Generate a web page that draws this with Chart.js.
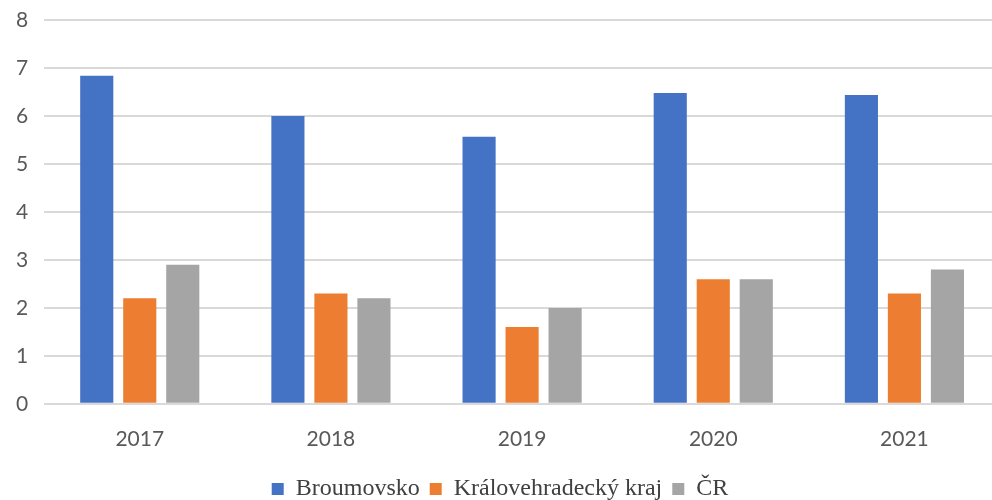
<!DOCTYPE html>
<html>
<head>
<meta charset="utf-8">
<script src="https://cdn.jsdelivr.net/npm/chart.js@4"></script>
<style>
  html, body { margin: 0; padding: 0; background: #fff; overflow: hidden; }
  #wrap { width: 1000px; height: 500px; }
</style>
</head>
<body>
<div id="wrap"><canvas id="chart"></canvas></div>
<script>
const years = ['2017', '2018', '2019', '2020', '2021'];
const broumovsko = [6.84, 6.0, 5.57, 6.48, 6.44];
const kralovehradecky = [2.2, 2.3, 1.6, 2.6, 2.3];
const cr = [2.9, 2.2, 2.0, 2.6, 2.8];
const yTicks = [0, 1, 2, 3, 4, 5, 6, 7, 8];

const tickFont = { family: 'Lato, "Open Sans", sans-serif', size: 21 };

new Chart(document.getElementById('chart'), {
    type: 'bar',
    data: {
        labels: years,
        datasets: [
            { label: 'Broumovsko', data: broumovsko, backgroundColor: '#4472C4' },
            { label: 'Královehradecký kraj', data: kralovehradecky, backgroundColor: '#ED7D31' },
            { label: 'ČR', data: cr, backgroundColor: '#A5A5A5' }
        ]
    },
    options: {
        responsive: true,
        maintainAspectRatio: false,
        animation: false,
        categoryPercentage: 0.675,
        barPercentage: 0.77,
        layout: { padding: { left: 0, top: 18, right: 0, bottom: -11 } },
        plugins: {
            tooltip: { enabled: false },
            legend: {
                position: 'bottom',
                labels: {
                    font: { family: '"Liberation Serif", "Times New Roman", serif', size: 24 },
                    color: '#404040',
                    boxWidth: 12,
                    boxHeight: 12,
                    padding: 10
                }
            }
        },
        scales: {
            x: {
                grid: { display: false },
                border: { display: false },
                ticks: { font: tickFont, color: '#595959', padding: 15 }
            },
            y: {
                min: 0,
                max: 8,
                afterBuildTicks: (axis) => { axis.ticks = yTicks.map(v => ({ value: v })); },
                grid: { color: '#d9d9d9', lineWidth: 2, drawTicks: false },
                border: { display: false },
                ticks: { font: { ...tickFont, lineHeight: 0.4 }, color: '#595959', padding: 16 }
            }
        }
    }
});
</script>
</body>
</html>
